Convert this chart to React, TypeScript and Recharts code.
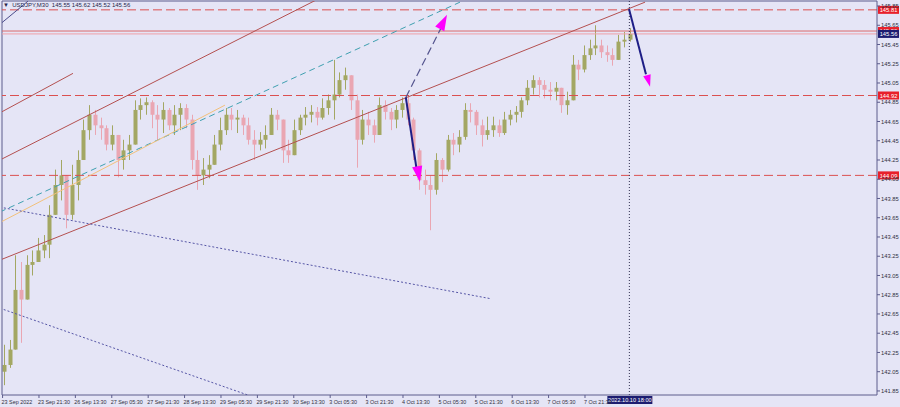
import { ComposedChart, Bar, XAxis, YAxis, ReferenceLine, ReferenceDot } from 'recharts';

// USDJPY M30, aggregated candles (one per 5 M30 bars), oldest first
const closes = [
  142.12, 142.28, 142.90, 142.80, 143.16, 143.19, 143.31, 143.37, 143.68, 143.99,
  144.09, 143.68, 143.99, 144.25, 144.56, 144.72, 144.61, 144.58, 144.41, 144.51,
  144.25, 144.35, 144.41, 144.77, 144.82, 144.85, 144.72, 144.67, 144.77, 144.61,
  144.72, 144.79, 144.67, 144.25, 144.09, 144.15, 144.20, 144.41, 144.56, 144.72,
  144.67, 144.69, 144.61, 144.46, 144.41, 144.46, 144.51, 144.72, 144.67, 144.35,
  144.30, 144.56, 144.69, 144.72, 144.75, 144.69, 144.79, 144.87, 144.93, 145.08,
  145.13, 144.87, 144.46, 144.67, 144.61, 144.51, 144.82, 144.75, 144.67, 144.77,
  144.84, 144.67, 144.35, 144.04, 143.99, 143.94, 144.25, 144.15, 144.46, 144.41,
  144.49, 144.77, 144.75, 144.61, 144.51, 144.56, 144.61, 144.53, 144.67, 144.72,
  144.75, 144.87, 145.00, 145.08, 145.03, 144.98, 144.96, 145.00, 144.82, 144.87,
  145.24, 145.19, 145.34, 145.41, 145.44, 145.37, 145.34, 145.29, 145.48, 145.50,
  145.56,
];
const highs = [
  142.33, 142.38, 143.26, 143.19, 143.26, 143.31, 143.44, 143.47, 143.78, 144.15,
  144.25, 144.04, 144.20, 144.35, 144.67, 144.82, 144.77, 144.69, 144.61, 144.61,
  144.51, 144.46, 144.51, 144.87, 144.89, 144.90, 144.87, 144.82, 144.85, 144.79,
  144.82, 144.84, 144.83, 144.72, 144.35, 144.27, 144.30, 144.51, 144.69, 144.79,
  144.79, 144.77, 144.72, 144.69, 144.56, 144.54, 144.61, 144.79, 144.77, 144.61,
  144.46, 144.67, 144.72, 144.80, 144.82, 144.80, 144.89, 144.93, 145.29, 145.16,
  145.21, 145.08, 144.93, 144.77, 144.75, 144.67, 144.90, 144.87, 144.79, 144.82,
  144.90, 144.92, 144.69, 144.37, 144.15, 144.09, 144.32, 144.27, 144.51, 144.53,
  144.56, 144.84, 144.84, 144.77, 144.67, 144.70, 144.70, 144.67, 144.75, 144.77,
  144.81, 144.90, 145.08, 145.13, 145.11, 145.08, 145.06, 145.06, 145.00, 144.96,
  145.34, 145.29, 145.44, 145.50, 145.65, 145.50, 145.44, 145.41, 145.55, 145.58,
  145.62,
];
const lows = [
  141.91, 142.09, 142.28, 142.35, 142.80, 143.05, 143.19, 143.23, 143.23, 143.68,
  143.83, 143.54, 143.63, 143.83, 144.25, 144.46, 144.51, 144.46, 144.35, 144.35,
  144.07, 144.15, 144.25, 144.41, 144.67, 144.72, 144.58, 144.46, 144.53, 144.56,
  144.51, 144.56, 144.58, 144.15, 143.94, 143.99, 144.06, 144.20, 144.35, 144.51,
  144.56, 144.53, 144.51, 144.41, 144.25, 144.35, 144.37, 144.51, 144.56, 144.22,
  144.22, 144.30, 144.51, 144.61, 144.64, 144.61, 144.67, 144.72, 144.67, 144.90,
  144.98, 144.77, 144.17, 144.41, 144.51, 144.43, 144.51, 144.67, 144.56, 144.58,
  144.69, 144.61, 144.25, 143.94, 143.89, 143.52, 143.89, 144.02, 144.13, 144.30,
  144.33, 144.46, 144.64, 144.51, 144.39, 144.46, 144.49, 144.49, 144.51, 144.61,
  144.64, 144.69, 144.82, 144.93, 144.90, 144.89, 144.87, 144.87, 144.74, 144.72,
  144.87, 145.08, 145.16, 145.29, 145.34, 145.31, 145.27, 145.23, 145.29, 145.42,
  145.48,
];
const firstOpen = 142.05;

const timeTicks = [0, 32, 64, 96, 128, 160, 192, 224, 256, 288, 320, 352, 384, 416, 448, 480, 512];
const timeLabels = [
  '23 Sep 2022', '23 Sep 21:30', '26 Sep 13:30', '27 Sep 05:30', '27 Sep 21:30', '28 Sep 13:30',
  '29 Sep 05:30', '29 Sep 21:30', '30 Sep 13:30', '3 Oct 05:30', '3 Oct 21:30', '4 Oct 13:30',
  '5 Oct 05:30', '5 Oct 21:30', '6 Oct 13:30', '7 Oct 05:30', '7 Oct 21:30',
];
const priceTicks = [
  141.85, 142.05, 142.25, 142.45, 142.65, 142.85, 143.05, 143.25, 143.45, 143.65, 143.85,
  144.05, 144.25, 144.45, 144.65, 144.85, 145.05, 145.25, 145.45, 145.65, 145.85,
];

// horizontal levels
const dashedLevels = [145.81, 144.92, 144.09];
const resistanceLevel = 145.59;
const bidLevel = 145.56;
const lastBar = 551;
const lastBarLabel = '2022.10.10 18:00';

// drawn objects: [bar1, price1, bar2, price2]
const channelLines = [
  [-2.3, 144.25, 275.3, 145.91],
  [-2.3, 144.74, 61.9, 145.15],
  [-2.3, 143.21, 564.8, 145.89],
];
const cornerLine = [-2.3, 145.66, 22.3, 145.9];
const tealLine = [-2.3, 143.71, 402.1, 145.89];
const orangeLine = [-2.3, 143.6, 195.5, 144.82];
const dottedLines = [
  [-2.3, 143.76, 428.5, 142.81],
  [-2.3, 142.71, 217.5, 141.8],
];
const forecastDashed = [354.5, 144.9, 385.4, 145.62];
const forecastSolid = [
  [354.5, 144.9, 364.3, 144.13],
  [550.7, 145.82, 565.6, 145.14],
];
// arrow tips: [bar, price, direction in degrees]
const arrowTips = [
  [390.7, 145.76, -63],
  [366.9, 144.02, 80],
  [569.2, 145.01, 75],
];

const BG = '#e5e5f6';
const FRAME = '#5c5c8c';
const BULL = '#a3a763';
const BEAR = '#eaa6b2';

const candles = closes.map((c, i) => ({
  bar: i * 5 + 1,
  open: i === 0 ? firstOpen : closes[i - 1],
  close: c,
  high: highs[i],
  low: lows[i],
}));

const Candle = (props: any) => {
  const { x, y, width, height, payload } = props;
  const { open, close, high, low } = payload;
  const top = Math.min(y, y + height);
  const h = Math.abs(height);
  const toY = (v: number) => top + ((high - v) / (high - low)) * h;
  const cx = Math.round(x + width / 2);
  const color = close >= open ? BULL : BEAR;
  const bTop = toY(Math.max(open, close));
  const bBot = toY(Math.min(open, close));
  return (
    <g>
      <line x1={cx + 0.5} x2={cx + 0.5} y1={Math.min(top, bTop)} y2={Math.max(top + h, bBot)} stroke={color} />
      <rect x={cx - 1.5} y={bTop} width={4} height={Math.max(1, bBot - bTop)} fill={color} />
    </g>
  );
};

const PriceTag = (props: any) => {
  const { viewBox, text, fill } = props;
  const { x, y, width } = viewBox;
  return (
    <g>
      <rect x={x + width + 1} y={y - 4} width={21} height={8} fill={fill} />
      <text x={x + width + 11.5} y={y + 2.2} fontSize={5.8} textAnchor="middle" fill="#ffffff">{text}</text>
    </g>
  );
};

const TimeTag = (props: any) => {
  const { viewBox, text } = props;
  const { x, y, height } = viewBox;
  return (
    <g>
      <rect x={x - 22} y={y + height + 1} width={45} height={8} fill="#1c1c70" />
      <text x={x + 0.5} y={y + height + 7} fontSize={5.6} textAnchor="middle" fill="#ffffff">{text}</text>
    </g>
  );
};

const TimeTick = (props: any) => {
  const { x, y, payload, index } = props;
  return (
    <text x={x - 1} y={y + 5} fontSize={5.4} fill="#303040">
      {timeLabels[index] ?? payload.value}
    </text>
  );
};

const PriceTick = (props: any) => {
  const { x, y, payload } = props;
  return (
    <text x={x - 1} y={y + 2.2} fontSize={5.8} fill="#303040">
      {payload.value.toFixed(2)}
    </text>
  );
};

const arrowHead = (angle: number, len: number) => (p: any) => {
  const { cx, cy } = p;
  const a = (angle * Math.PI) / 180;
  const bx = cx - Math.cos(a) * len;
  const by = cy - Math.sin(a) * len;
  const nx = -Math.sin(a) * len * 0.32;
  const ny = Math.cos(a) * len * 0.32;
  return <polygon points={`${cx},${cy} ${bx + nx},${by + ny} ${bx - nx},${by - ny}`} fill="#ff00ff" />;
};

const seg = (l: number[]) => [
  { x: l[0], y: l[1] },
  { x: l[2], y: l[3] },
];

export default function App() {
  return (
    <div
      style={{
        position: 'fixed',
        left: 0,
        top: 0,
        width: 900,
        height: 407,
        background: BG,
        fontFamily: '"Liberation Sans", Arial, sans-serif',
      }}
    >
      <ComposedChart width={900} height={407} data={candles} margin={{ top: 1, right: 0, bottom: 0, left: 2 }}>
        <XAxis
          type="number"
          dataKey="bar"
          domain={[-0.5, 768.7]}
          ticks={timeTicks}
          allowDataOverflow
          height={12}
          tickSize={3}
          tickMargin={1}
          axisLine={{ stroke: FRAME }}
          tickLine={{ stroke: FRAME }}
          tick={<TimeTick />}
          interval={0}
        />
        <YAxis
          orientation="right"
          domain={[141.808, 145.902]}
          ticks={priceTicks}
          allowDataOverflow
          width={23}
          tickSize={3}
          tickMargin={2}
          axisLine={{ stroke: FRAME }}
          tickLine={{ stroke: FRAME }}
          tick={<PriceTick />}
          interval={0}
        />
        <ReferenceLine x={-0.5} stroke={FRAME} />
        <ReferenceLine y={145.902} stroke={FRAME} />

        {dashedLevels.map((lv) => (
          <ReferenceLine
            key={lv}
            y={lv}
            stroke="#db5050"
            strokeDasharray="9 4"
            label={<PriceTag text={lv.toFixed(2)} fill="#e8202a" />}
          />
        ))}
        <ReferenceLine y={resistanceLevel} stroke="#dc6a6a" label={<PriceTag text={resistanceLevel.toFixed(2)} fill="#e8202a" />} />
        <ReferenceLine y={bidLevel} stroke="#f0a0a8" label={<PriceTag text={bidLevel.toFixed(2)} fill="#1c1c70" />} />

        {channelLines.map((l, i) => (
          <ReferenceLine key={'c' + i} segment={seg(l)} stroke="#b45050" ifOverflow="hidden" />
        ))}
        <ReferenceLine segment={seg(cornerLine)} stroke="#4a4a8a" ifOverflow="hidden" />
        <ReferenceLine segment={seg(tealLine)} stroke="#3fa0b0" strokeDasharray="6 4" ifOverflow="hidden" />
        <ReferenceLine segment={seg(orangeLine)} stroke="#f2c07a" ifOverflow="hidden" />
        {dottedLines.map((l, i) => (
          <ReferenceLine key={'d' + i} segment={seg(l)} stroke="#5656a6" strokeDasharray="2 2" ifOverflow="hidden" />
        ))}

        <ReferenceLine
          x={lastBar}
          stroke="#303050"
          strokeDasharray="1 2"
          label={<TimeTag text={lastBarLabel} />}
        />

        <Bar
          dataKey={(d: any) => [d.low, d.high]}
          shape={<Candle />}
          barSize={4}
          isAnimationActive={false}
        />

        <ReferenceLine segment={seg(forecastDashed)} stroke="#55558f" strokeWidth={1.2} strokeDasharray="8 4" ifOverflow="hidden" />
        {forecastSolid.map((l, i) => (
          <ReferenceLine key={'f' + i} segment={seg(l)} stroke="#1e1e86" strokeWidth={2} ifOverflow="hidden" />
        ))}
        {arrowTips.map((t, i) => (
          <ReferenceDot key={'a' + i} x={t[0]} y={t[1]} r={1} shape={arrowHead(t[2], i === 2 ? 12 : 16)} />
        ))}
      </ComposedChart>
      <div
        style={{
          position: 'absolute',
          left: 3,
          top: 1,
          fontSize: 6,
          lineHeight: '8px',
          color: '#26264a',
          whiteSpace: 'pre',
        }}
      >
        {'\u25BC  USDJPY,M30  145.55 145.62 145.52 145.56'}
      </div>
    </div>
  );
}
